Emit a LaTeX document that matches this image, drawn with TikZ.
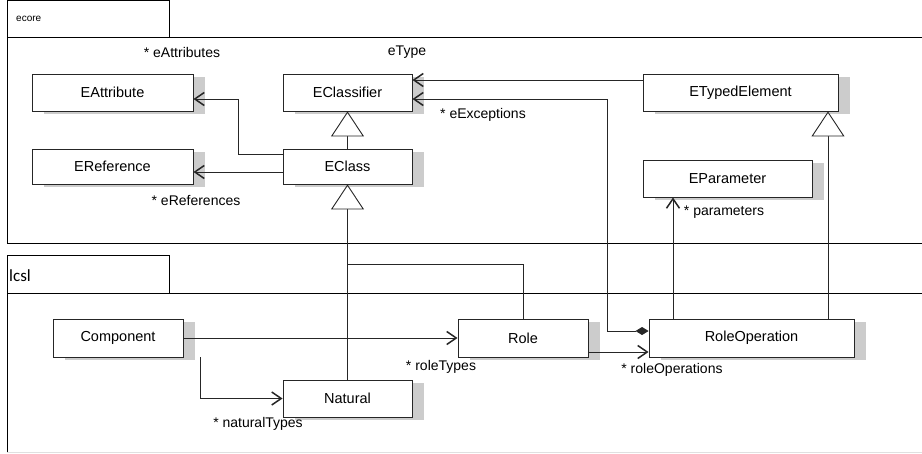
\documentclass[tikz,border=0pt]{standalone}
\usepackage{fontspec}
\setmainfont{Liberation Sans}
\newfontfamily\calibrifont{Carlito}
\usetikzlibrary{arrows.meta,shadows,calc}
\begin{document}
\begin{tikzpicture}[x=1pt,y=-1pt,
  cls/.style={draw=black!85,line width=0.9pt,fill=white,minimum height=37pt,inner sep=0pt,
    font=\fontsize{14.5}{16}\selectfont,
    drop shadow={shadow xshift=12pt,shadow yshift=-2.5pt,fill=black!20,opacity=1}},
  lbl/.style={font=\fontsize{14}{16}\selectfont,inner sep=0pt},
  conn/.style={draw=black!85,line width=0.9pt},
  assoc/.style={conn,-{Straight Barb[length=9.5pt,width=13pt,line width=1.5pt]}},
  gen/.style={conn,-{Triangle[open,length=25pt,width=33pt,line width=0.9pt,fill=white]}},
  comp/.style={conn,{Diamond[length=13pt,width=8pt]}-{Straight Barb[length=9.5pt,width=13pt,line width=1.5pt]}},
  pkg/.style={draw=black,line width=0.9pt}
]
\useasboundingbox (0,0) rectangle (922,453);
\begin{scope}
\clip (0,0) rectangle (922,453);
% packages
\draw[pkg] (7,0.5) rectangle (169,37);
\draw[pkg] (7,37) rectangle (930,243);
\node[anchor=west,inner sep=0pt,font=\fontsize{10}{12}\selectfont] (ecorelbl) at (16,19) {ecore};
\draw[pkg] (7,255) rectangle (169,293);
\draw[pkg] (7,452) -- (7,293) -- (930,293);
\draw[draw=black!12,line width=0.9pt] (7,452) -- (930,452);
\node[anchor=west,inner sep=0pt,font=\calibrifont\fontsize{17}{20}\selectfont] (lcsllbl) at (9,276) {lcsl};
\end{scope}

% classes
\node[cls,minimum width=161pt] (eattr) at (112.5,92.5) {EAttribute};
\node[cls,minimum width=161pt,minimum height=35pt] (eref) at (112.5,166.5) {EReference};
\node[cls,minimum width=129pt] (eclassifier) at (347.5,92.5) {EClassifier};
\node[cls,minimum width=129pt,minimum height=35pt] (eclass) at (347.5,166.5) {EClass};
\node[cls,minimum width=195pt] (etyped) at (740.5,92.5) {ETypedElement};
\node[cls,minimum width=169pt] (eparam) at (727.5,178.5) {EParameter};
\node[cls,minimum width=130pt,minimum height=38pt] (comp) at (118,338) {Component};
\node[cls,minimum width=130pt,minimum height=38pt] (role) at (523,338) {Role};
\node[cls,minimum width=205pt,minimum height=38pt] (ro) at (751.5,338) {RoleOperation};
\node[cls,minimum width=129pt] (natural) at (347.5,398.5) {Natural};

% bend points
\coordinate (b1) at (238,99);
\coordinate (b2) at (607,99);
\coordinate (j1) at (348,264);

% connectors
\draw[assoc] ([yshift=12.5pt]eclass.west) -| (b1) -- (eattr.east |- b1);
\draw[assoc] (eclass.west |- 0,172) -- (eref.east |- 0,172);
\draw[gen] (eclass.north) -- (eclassifier.south);
\draw[assoc] (etyped.west |- 0,80) -- (eclassifier.east |- 0,80);
\draw[comp] (ro.west |- 0,331) -| (b2) -- (eclassifier.east |- b2);
\draw[assoc] (ro.north -| 673,0) -- (eparam.south -| 673,0);
\draw[gen] (ro.north -| 828,0) -- (etyped.south -| 828,0);
\draw[gen] (natural.north) -- (eclass.south);
\draw[conn] (role.north) |- (j1);
\draw[assoc] (comp.east) -- (role.west);
\draw[assoc] (comp.south -| 200,0) |- (natural.west);
\draw[assoc] (role.east |- 0,352) -- (ro.west |- 0,352);

% labels
\node[lbl] (l1) at (182,52) {* eAttributes};
\node[lbl] (l2) at (196,200) {* eReferences};
\node[lbl] (l3) at (407,52) {eType};
\node[lbl] (l4) at (483,115) {* eExceptions};
\node[lbl] (l5) at (724,212) {* parameters};
\node[lbl] (l6) at (441,367) {* roleTypes};
\node[lbl] (l7) at (258,424) {* naturalTypes};
\node[lbl] (l8) at (672,370) {* roleOperations};
\end{tikzpicture}
\end{document}
